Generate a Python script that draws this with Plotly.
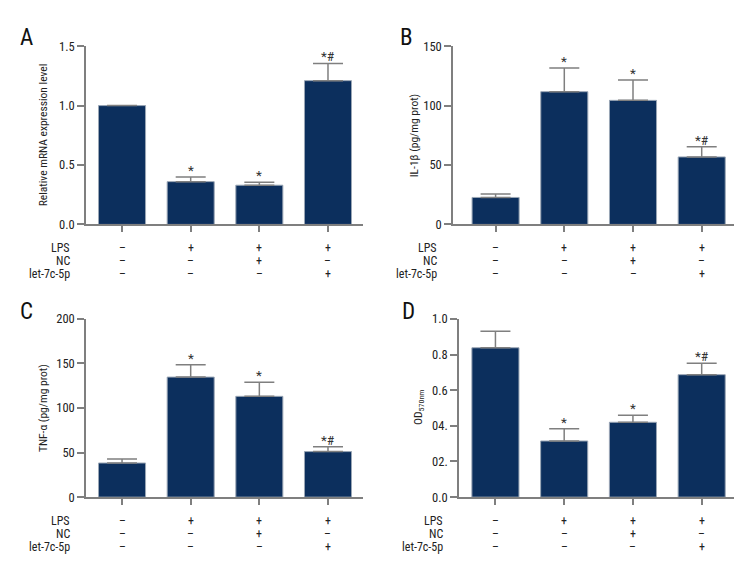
import plotly.graph_objects as go

W, H = 756, 576
FONT = "Liberation Sans Narrow, Roboto Condensed, Roboto, sans-serif"
BAR_COLOR = "#0c2f5d"
AXIS_COLOR = "#7f7f7f"

categories = [0, 1, 2, 3]
row_labels = ["LPS", "NC", "let-7c-5p"]
lps = ["–", "+", "+", "+"]
nc = ["–", "–", "+", "–"]
let7c = ["–", "–", "–", "+"]

a_mean = [1.0, 0.36, 0.33, 1.21]
a_sem = [0.0, 0.04, 0.025, 0.145]
a_sig = ["", "*", "*", "*#"]

b_mean = [22.7, 111.7, 104.4, 56.8]
b_sem = [3.0, 20.0, 17.2, 8.5]
b_sig = ["", "*", "*", "*#"]

c_mean = [38.3, 134.7, 113.1, 51.1]
c_sem = [4.4, 13.8, 15.7, 5.5]
c_sig = ["", "*", "*", "*#"]

d_mean = [0.838, 0.315, 0.42, 0.687]
d_sem = [0.093, 0.069, 0.04, 0.064]
d_sig = ["", "*", "*", "*#"]

a_ticks = [0.0, 0.5, 1.0, 1.5]
a_ticktext = ["0.0", "0.5", "1.0", "1.5"]
b_ticks = [0, 50, 100, 150]
b_ticktext = ["0", "50", "100", "150"]
c_ticks = [0, 50, 100, 150, 200]
c_ticktext = ["0", "50", "100", "150", "200"]
d_ticks = [0.0, 0.2, 0.4, 0.6, 0.8, 1.0]
d_ticktext = ["0.0", "02.", "04.", "0.6", "0.8", "1.0"]

panels = [
    dict(letter="A", mean=a_mean, sem=a_sem, sig=a_sig, ticks=a_ticks, ticktext=a_ticktext,
         yrange=[0, 1.5], ytitle="Relative mRNA expression level",
         px=(78, 355), py=(31, 214), xr=[-0.525, 3.51], letter_pos=(18, 22), title_x=35),
    dict(letter="B", mean=b_mean, sem=b_sem, sig=b_sig, ticks=b_ticks, ticktext=b_ticktext,
         yrange=[0, 150], ytitle="IL-1β (pg/mg prot)",
         px=(445, 726), py=(31, 214), xr=[-0.62, 3.47], letter_pos=(398, 22), title_x=406),
    dict(letter="C", mean=c_mean, sem=c_sem, sig=c_sig, ticks=c_ticks, ticktext=c_ticktext,
         yrange=[0, 200], ytitle="TNF-α (pg/mg prot)",
         px=(78, 355), py=(311, 494), xr=[-0.525, 3.51], letter_pos=(18, 303), title_x=35),
    dict(letter="D", mean=d_mean, sem=d_sem, sig=d_sig, ticks=d_ticks, ticktext=d_ticktext,
         yrange=[0, 1.0], ytitle="OD<sub>570nm</sub>",
         px=(451, 726), py=(311, 494), xr=[-0.53, 3.47], letter_pos=(400, 303), title_x=410),
]


def f(size, color="#222"):
    return dict(family=FONT, size=size, color=color)


fig = go.Figure()
annotations = []
layout = {}

for i, p in enumerate(panels):
    n = "" if i == 0 else str(i + 1)
    xa, ya = "x" + n, "y" + n
    fig.add_trace(go.Bar(
        x=categories, y=p["mean"], xaxis=xa, yaxis=ya, width=0.685,
        marker=dict(color=BAR_COLOR, line=dict(color="#9aa6b5", width=1)),
        error_y=dict(type="data", symmetric=False, array=p["sem"],
                     arrayminus=[0] * len(p["sem"]), color=AXIS_COLOR, thickness=1.5, width=15),
        showlegend=False, hoverinfo="skip",
    ))
    x0, x1 = p["px"]
    y0, y1 = p["py"]
    layout["xaxis" + n] = dict(
        domain=[x0 / W, x1 / W], range=p["xr"], anchor=ya,
        showline=True, linecolor=AXIS_COLOR, linewidth=1.5,
        tickmode="array", tickvals=categories, showticklabels=False,
        ticks="outside", ticklen=6, tickwidth=1.5, tickcolor=AXIS_COLOR,
        showgrid=False, zeroline=False, fixedrange=True,
    )
    layout["yaxis" + n] = dict(
        domain=[1 - y1 / H, 1 - y0 / H], range=p["yrange"], anchor=xa,
        showline=True, linecolor=AXIS_COLOR, linewidth=1.5,
        tickmode="array", tickvals=p["ticks"], ticktext=p["ticktext"],
        ticks="outside", ticklen=7, tickwidth=1.5, tickcolor=AXIS_COLOR,
        tickfont=f(12.5),
        showgrid=False, zeroline=False, fixedrange=True,
    )
    annotations.append(dict(
        text=p["ytitle"], x=p["title_x"] / W, y=1 - (y0 + y1) / 2 / H,
        xref="paper", yref="paper", textangle=-90, showarrow=False,
        xanchor="center", yanchor="middle", font=f(11.5),
    ))
    lx, ly = p["letter_pos"]
    annotations.append(dict(
        text=p["letter"], x=lx / W, y=1 - ly / H, xref="paper", yref="paper",
        showarrow=False, xanchor="center", yanchor="middle", font=f(23, "#111"),
    ))
    for c, m, s, sig in zip(categories, p["mean"], p["sem"], p["sig"]):
        if sig:
            annotations.append(dict(
                text=sig, x=c, y=m + s, xref=xa, yref=ya, showarrow=False,
                xanchor="center", yanchor="bottom", yshift=-3, font=f(13.5, "#333"),
            ))
    offsets = [24, 37, 50]
    for r, (lab, row) in enumerate(zip(row_labels, [lps, nc, let7c])):
        annotations.append(dict(
            text=lab, x=0, y=0, xref=xa + " domain", yref=ya + " domain",
            showarrow=False, xanchor="right", yanchor="middle",
            xshift=-14, yshift=-offsets[r], font=f(12),
        ))
        for c, sym in zip(categories, row):
            annotations.append(dict(
                text=sym, x=c, y=0, xref=xa, yref=ya + " domain",
                showarrow=False, xanchor="center", yanchor="middle",
                yshift=-offsets[r], font=f(12),
            ))

fig.update_layout(
    width=W, height=H, margin=dict(l=0, r=0, t=0, b=0),
    paper_bgcolor="white", plot_bgcolor="white",
    annotations=annotations, bargap=0.3,
    font=dict(family=FONT, color="#222"),
    **layout,
)

fig.write_html("out.html")
